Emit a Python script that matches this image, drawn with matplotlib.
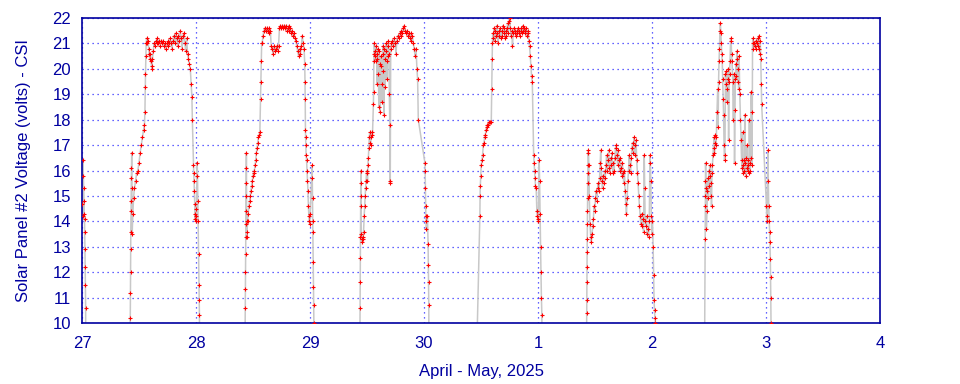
import matplotlib
matplotlib.use('Agg')
import matplotlib.pyplot as plt

# time = days since Apr 27 00:00, volts = panel #2 voltage
# values below 10 are night readings that run off the bottom of the chart
apr26_end = [(0.000, 14.7), (0.005, 14.2), (0.008, 16.4), (0.012, 15.8), (0.015, 15.3), (0.018, 14.8),
             (0.020, 14.3), (0.022, 14.1), (0.024, 13.6), (0.026, 12.9), (0.028, 12.2), (0.030, 11.5),
             (0.032, 10.6), (0.034, 8.0)]

apr27 = [(0.420, 8.0), (0.424, 10.2), (0.425, 11.2), (0.426, 12.0), (0.427, 12.9), (0.428, 13.6), (0.430, 14.4),
         (0.431, 14.8), (0.433, 15.7), (0.434, 16.1), (0.436, 16.7), (0.438, 15.3), (0.440, 13.5), (0.446, 14.3),
         (0.452, 14.9), (0.460, 15.3), (0.470, 15.6), (0.480, 15.9), (0.490, 16.0), (0.500, 16.3), (0.510, 16.7),
         (0.520, 17.0), (0.530, 17.3), (0.540, 17.6), (0.548, 17.8), (0.552, 18.3), (0.555, 19.3), (0.557, 19.8),
         (0.560, 20.5), (0.563, 21.0), (0.567, 21.2), (0.572, 21.0), (0.578, 21.1), (0.585, 20.8), (0.590, 20.6),
         (0.595, 20.4), (0.600, 20.6), (0.605, 20.3), (0.610, 20.1), (0.613, 20.0), (0.618, 20.4), (0.625, 20.7),
         (0.632, 21.0), (0.640, 20.9), (0.648, 21.1), (0.655, 21.0), (0.662, 21.2), (0.670, 21.0), (0.678, 21.1),
         (0.686, 20.9), (0.694, 21.1), (0.702, 21.0), (0.710, 21.1), (0.718, 20.9), (0.726, 21.0), (0.734, 20.8),
         (0.742, 21.0), (0.750, 20.9), (0.758, 21.1), (0.766, 21.0), (0.774, 21.2), (0.782, 21.0), (0.790, 20.8),
         (0.798, 21.1), (0.806, 21.3), (0.814, 21.0), (0.822, 21.4), (0.830, 21.2), (0.838, 20.9), (0.846, 21.3),
         (0.854, 21.1), (0.862, 21.5), (0.870, 21.2), (0.878, 20.8), (0.886, 21.3), (0.894, 21.4), (0.902, 21.0),
         (0.910, 20.7), (0.918, 21.2), (0.926, 20.6), (0.934, 20.4), (0.942, 20.2), (0.950, 20.0), (0.958, 19.4),
         (0.964, 18.9), (0.968, 18.0), (0.978, 16.2), (0.980, 15.9), (0.983, 15.6), (0.986, 15.2), (0.989, 14.7),
         (0.991, 14.3), (0.993, 14.1), (0.996, 14.5), (0.999, 14.0), (1.003, 14.2), (1.010, 16.3), (1.013, 15.8),
         (1.016, 14.8), (1.019, 14.0), (1.022, 12.7), (1.025, 11.5), (1.027, 10.9), (1.030, 10.3), (1.033, 8.0)]

apr28 = [(1.428, 8.0), (1.432, 10.6), (1.433, 11.35), (1.434, 12.0), (1.435, 12.7), (1.436, 13.4), (1.437, 13.9),
         (1.438, 14.4), (1.439, 15.0), (1.440, 15.5), (1.441, 16.1), (1.442, 16.7), (1.444, 14.0), (1.446, 13.4),
         (1.448, 13.6), (1.452, 14.0), (1.458, 14.3), (1.464, 14.6), (1.470, 14.8), (1.476, 15.0), (1.482, 15.2),
         (1.488, 15.4), (1.494, 15.6), (1.500, 15.8), (1.506, 15.9), (1.512, 16.0), (1.518, 16.2), (1.524, 16.4),
         (1.530, 16.7), (1.536, 16.9), (1.542, 17.1), (1.548, 17.3), (1.554, 17.4), (1.560, 17.5), (1.566, 18.8),
         (1.569, 19.5), (1.572, 20.3), (1.576, 21.0), (1.580, 21.0), (1.588, 21.3), (1.596, 21.5), (1.604, 21.6),
         (1.612, 21.5), (1.620, 21.6), (1.628, 21.5), (1.636, 21.4), (1.644, 21.6), (1.652, 21.5), (1.660, 20.9),
         (1.668, 20.8), (1.676, 20.6), (1.684, 20.9), (1.692, 20.7), (1.700, 20.8), (1.708, 20.9), (1.716, 20.7),
         (1.724, 20.9), (1.732, 21.6), (1.740, 21.7), (1.748, 21.6), (1.756, 21.7), (1.764, 21.6), (1.772, 21.7),
         (1.780, 21.6), (1.788, 21.7), (1.796, 21.5), (1.804, 21.6), (1.812, 21.7), (1.820, 21.5), (1.828, 21.6),
         (1.836, 21.4), (1.844, 21.5), (1.852, 21.3), (1.860, 21.4), (1.868, 21.2), (1.876, 21.1), (1.884, 20.9),
         (1.892, 20.7), (1.900, 20.5), (1.908, 20.8), (1.916, 20.6), (1.924, 20.9), (1.932, 21.3), (1.940, 21.0),
         (1.948, 20.8), (1.954, 20.2), (1.956, 19.5), (1.958, 18.8), (1.960, 17.6), (1.962, 17.3), (1.964, 17.0),
         (1.966, 16.6), (1.970, 16.4), (1.974, 16.0), (1.978, 15.6), (1.982, 15.2), (1.986, 14.6), (1.990, 14.2),
         (1.994, 14.0), (1.998, 13.9), (2.002, 14.3), (2.018, 16.2), (2.020, 15.7), (2.022, 14.9), (2.024, 14.0),
         (2.026, 13.6), (2.028, 12.4), (2.030, 11.4), (2.032, 10.7), (2.034, 10.0), (2.036, 8.0)]

apr29 = [(2.436, 8.0), (2.439, 10.6), (2.440, 11.6), (2.441, 12.55), (2.442, 13.4), (2.443, 14.6), (2.444, 15.0),
         (2.445, 15.5), (2.446, 16.0), (2.450, 13.5), (2.454, 13.3), (2.458, 13.2), (2.462, 13.4), (2.466, 13.3),
         (2.470, 13.6), (2.475, 14.2), (2.480, 14.6), (2.484, 15.0), (2.488, 15.3), (2.492, 15.6), (2.496, 15.9),
         (2.500, 16.0), (2.504, 15.6), (2.508, 16.2), (2.512, 16.5), (2.516, 16.9), (2.520, 17.3), (2.524, 17.5),
         (2.528, 17.1), (2.532, 17.0), (2.536, 17.3), (2.540, 17.5), (2.548, 17.4), (2.556, 18.6), (2.558, 19.1),
         (2.560, 20.3), (2.562, 20.6), (2.564, 21.0), (2.568, 20.7), (2.572, 20.5), (2.576, 20.3), (2.580, 20.9),
         (2.584, 20.6), (2.588, 19.4), (2.592, 20.4), (2.596, 20.8), (2.600, 19.8), (2.604, 18.5), (2.608, 20.7),
         (2.612, 20.2), (2.616, 18.3), (2.620, 20.5), (2.624, 20.1), (2.628, 19.4), (2.632, 18.7), (2.636, 20.6),
         (2.640, 20.9), (2.644, 19.9), (2.648, 18.2), (2.652, 20.8), (2.656, 20.4), (2.660, 19.3), (2.664, 20.7),
         (2.668, 21.0), (2.672, 20.3), (2.676, 19.6), (2.680, 20.5), (2.684, 20.9), (2.688, 21.1), (2.692, 20.6),
         (2.696, 19.0), (2.700, 17.8), (2.702, 15.6), (2.704, 15.5), (2.708, 20.8), (2.714, 21.0), (2.722, 21.1),
         (2.730, 20.9), (2.738, 21.2), (2.746, 21.0), (2.754, 20.6), (2.762, 21.1), (2.770, 21.3), (2.778, 21.2),
         (2.786, 21.4), (2.794, 21.3), (2.802, 21.5), (2.810, 21.4), (2.818, 21.6), (2.826, 21.7), (2.834, 21.5),
         (2.842, 21.4), (2.850, 21.5), (2.858, 21.3), (2.866, 21.4), (2.874, 21.2), (2.882, 21.4), (2.890, 21.1),
         (2.898, 21.3), (2.906, 21.0), (2.914, 20.8), (2.922, 20.5), (2.930, 20.8), (2.938, 20.0), (2.944, 19.6),
         (2.950, 18.0), (3.008, 16.3), (3.010, 16.0), (3.012, 15.3), (3.014, 14.6), (3.016, 14.2), (3.018, 14.0),
         (3.020, 13.7), (3.030, 14.2), (3.036, 13.1), (3.038, 12.3), (3.040, 11.6), (3.042, 10.7), (3.044, 8.0)]

apr30 = [(3.458, 8.0), (3.490, 14.2), (3.492, 15.0), (3.494, 15.4), (3.498, 15.8), (3.502, 16.2), (3.508, 16.4),
         (3.514, 16.6), (3.520, 17.0), (3.526, 17.1), (3.532, 17.3), (3.538, 17.4), (3.544, 17.6), (3.550, 17.7),
         (3.556, 17.8), (3.562, 17.8), (3.570, 17.9), (3.580, 17.9), (3.590, 17.9), (3.594, 19.2), (3.597, 20.4),
         (3.600, 21.0), (3.603, 21.4), (3.608, 21.2), (3.614, 21.6), (3.620, 21.1), (3.626, 21.5), (3.632, 21.3),
         (3.638, 21.7), (3.644, 21.4), (3.650, 21.0), (3.656, 21.5), (3.662, 21.3), (3.668, 21.6), (3.674, 21.2),
         (3.680, 21.5), (3.686, 21.3), (3.692, 21.7), (3.698, 21.4), (3.704, 21.6), (3.710, 21.2), (3.716, 21.5),
         (3.722, 21.3), (3.728, 21.6), (3.734, 21.8), (3.740, 21.4), (3.746, 21.9), (3.752, 22.0), (3.758, 21.6),
         (3.764, 21.3), (3.770, 21.5), (3.776, 20.9), (3.782, 21.4), (3.788, 21.6), (3.794, 21.4), (3.800, 21.5),
         (3.806, 21.3), (3.812, 21.5), (3.818, 21.4), (3.824, 21.6), (3.830, 21.4), (3.836, 21.5), (3.842, 21.3),
         (3.848, 21.5), (3.854, 21.6), (3.860, 21.4), (3.866, 21.7), (3.872, 21.5), (3.878, 21.6), (3.884, 21.4),
         (3.890, 21.5), (3.896, 21.6), (3.902, 21.3), (3.908, 21.5), (3.914, 21.4), (3.920, 21.1), (3.926, 20.9),
         (3.932, 20.5), (3.938, 20.1), (3.944, 19.7), (3.950, 19.5), (3.962, 16.6), (3.966, 16.3), (3.970, 16.0),
         (3.974, 15.7), (3.978, 15.4), (3.984, 15.3), (3.990, 14.4), (3.994, 14.2), (3.998, 14.1), (4.002, 14.0),
         (4.010, 16.4), (4.014, 15.6), (4.018, 14.3), (4.022, 13.0), (4.026, 12.0), (4.030, 11.0), (4.034, 10.3),
         (4.036, 8.0)]

may1 = [(4.424, 8.0), (4.427, 10.4), (4.428, 10.9), (4.429, 11.6), (4.430, 12.2), (4.431, 12.8), (4.432, 13.3),
        (4.433, 13.9), (4.434, 14.4), (4.435, 14.9), (4.436, 15.5), (4.437, 15.9), (4.438, 16.2), (4.440, 16.7),
        (4.442, 16.8), (4.446, 16.2), (4.450, 15.0), (4.456, 13.9), (4.462, 13.4), (4.468, 13.2), (4.474, 13.5),
        (4.480, 13.8), (4.486, 14.1), (4.492, 14.6), (4.498, 14.4), (4.504, 14.9), (4.510, 15.2), (4.516, 14.8),
        (4.522, 15.3), (4.528, 15.5), (4.534, 15.2), (4.540, 15.7), (4.546, 16.3), (4.550, 16.8), (4.554, 16.1),
        (4.560, 15.6), (4.566, 15.3), (4.572, 15.8), (4.578, 15.5), (4.584, 16.0), (4.590, 15.7), (4.596, 16.2),
        (4.602, 16.6), (4.608, 16.0), (4.614, 16.4), (4.620, 16.8), (4.626, 16.1), (4.632, 15.9), (4.638, 16.5),
        (4.644, 16.2), (4.650, 16.7), (4.656, 15.9), (4.662, 16.3), (4.668, 16.0), (4.674, 16.5), (4.680, 16.9),
        (4.686, 17.0), (4.692, 16.6), (4.698, 16.2), (4.704, 16.8), (4.710, 16.4), (4.716, 16.0), (4.722, 16.5),
        (4.728, 16.1), (4.734, 15.8), (4.740, 16.3), (4.746, 15.9), (4.752, 15.5), (4.758, 16.0), (4.764, 15.2),
        (4.770, 14.7), (4.776, 14.3), (4.782, 14.9), (4.788, 15.6), (4.794, 16.0), (4.800, 16.6), (4.806, 16.2),
        (4.812, 15.9), (4.818, 16.5), (4.824, 16.9), (4.830, 17.1), (4.836, 16.7), (4.842, 17.3), (4.848, 17.0),
        (4.854, 16.6), (4.860, 17.2), (4.866, 16.4), (4.872, 15.9), (4.878, 15.5), (4.884, 15.0), (4.890, 14.6),
        (4.896, 14.2), (4.902, 13.9), (4.908, 14.3), (4.914, 13.8), (4.920, 14.1), (4.926, 13.6), (4.932, 16.6),
        (4.936, 15.3), (4.940, 14.0), (4.946, 13.8), (4.952, 14.2), (4.958, 13.5), (4.964, 13.7), (4.970, 13.4),
        (4.976, 14.0), (4.982, 16.6), (4.986, 16.3), (4.990, 15.6), (4.994, 14.2), (4.998, 13.5), (5.004, 14.0),
        (5.010, 13.0), (5.014, 11.9), (5.018, 10.9), (5.022, 10.5), (5.026, 10.2), (5.030, 10.0), (5.034, 8.0)]

may2 = [(5.460, 8.0), (5.466, 13.3), (5.467, 14.6), (5.468, 15.0), (5.469, 15.6), (5.470, 16.3), (5.474, 15.3),
        (5.478, 13.7), (5.482, 14.4), (5.486, 15.2), (5.490, 15.7), (5.494, 14.9), (5.498, 16.0), (5.502, 15.4),
        (5.506, 16.2), (5.510, 15.8), (5.514, 15.0), (5.518, 15.5), (5.522, 14.6), (5.526, 15.9), (5.530, 16.2),
        (5.536, 16.6), (5.540, 16.9), (5.544, 17.3), (5.548, 16.7), (5.552, 17.1), (5.556, 17.4), (5.560, 17.0),
        (5.564, 17.3), (5.570, 18.3), (5.576, 19.2), (5.580, 17.7), (5.584, 19.5), (5.588, 20.3), (5.592, 20.8),
        (5.596, 21.5), (5.600, 21.8), (5.604, 21.4), (5.608, 21.0), (5.612, 20.6), (5.616, 20.3), (5.620, 19.6),
        (5.624, 18.8), (5.628, 18.2), (5.632, 17.0), (5.636, 16.4), (5.640, 16.6), (5.644, 19.8), (5.648, 19.4),
        (5.652, 19.9), (5.656, 19.2), (5.660, 18.7), (5.664, 19.6), (5.668, 20.0), (5.672, 17.2), (5.676, 19.5),
        (5.680, 19.8), (5.684, 20.3), (5.690, 21.2), (5.694, 21.1), (5.698, 20.6), (5.702, 20.3), (5.708, 19.5),
        (5.714, 18.0), (5.720, 19.8), (5.724, 16.3), (5.728, 18.4), (5.732, 19.6), (5.736, 20.2), (5.740, 19.7),
        (5.744, 20.7), (5.748, 20.4), (5.752, 19.5), (5.756, 20.0), (5.760, 19.2), (5.764, 20.5), (5.770, 19.0),
        (5.776, 18.0), (5.780, 17.2), (5.786, 16.4), (5.790, 16.1), (5.794, 17.5), (5.798, 16.2), (5.802, 15.9),
        (5.806, 16.4), (5.810, 16.0), (5.814, 18.2), (5.818, 16.3), (5.822, 15.8), (5.826, 16.5), (5.830, 16.1),
        (5.834, 17.0), (5.838, 16.2), (5.842, 16.0), (5.846, 16.4), (5.850, 15.9), (5.854, 18.0), (5.858, 16.3),
        (5.862, 16.0), (5.866, 16.5), (5.870, 19.1), (5.874, 18.3), (5.878, 16.2), (5.882, 21.0), (5.886, 21.2),
        (5.890, 20.8), (5.896, 21.0), (5.902, 20.9), (5.908, 21.1), (5.914, 20.8), (5.920, 21.0), (5.926, 21.2),
        (5.932, 20.9), (5.938, 21.3), (5.942, 20.8), (5.946, 20.6), (5.950, 21.1), (5.954, 20.4), (5.958, 19.4),
        (5.962, 18.6), (6.004, 14.6), (6.006, 14.2), (6.010, 14.0), (6.016, 16.8), (6.020, 15.6), (6.024, 14.6),
        (6.028, 14.0), (6.032, 13.6), (6.034, 13.2), (6.038, 12.5), (6.040, 11.8), (6.042, 11.0), (6.044, 10.0),
        (6.046, 8.0)]

day_ticks = [0, 1, 2, 3, 4, 5, 6, 7]
day_labels = ['27', '28', '29', '30', '1', '2', '3', '4']
volt_ticks = list(range(10, 23))

navy = '#0000a0'
plt.rcParams['font.family'] = ['Liberation Sans', 'DejaVu Sans']

fig = plt.figure(figsize=(9.6, 3.84), dpi=100)
ax = fig.add_axes([82 / 960, 61 / 384, 798 / 960, 305 / 384])

readings = apr26_end + apr27 + apr28 + apr29 + apr30 + may1 + may2
t = [p[0] for p in readings]
v = [p[1] for p in readings]

ax.plot(t, v, '-', color='#c8c8c8', lw=1.1, zorder=2)
ax.plot(t, v, '+', color='#ff0000', ms=3.5, mew=0.8, zorder=3)

ax.set_xlim(0, 7)
ax.set_ylim(10, 22)
ax.set_xticks(day_ticks)
ax.set_xticklabels(day_labels)
ax.set_yticks(volt_ticks)
ax.grid(True, color='#3030ff', linestyle=(0, (1, 3)), lw=0.9)
ax.set_axisbelow(True)
for s in ax.spines.values():
    s.set_color(navy)
    s.set_linewidth(1.2)
ax.tick_params(length=0, labelsize=12, labelcolor=navy)
ax.tick_params(axis='x', pad=9)
ax.tick_params(axis='y', pad=8)
ax.set_xlabel('April - May, 2025', color=navy, fontsize=12, labelpad=10)
ax.set_ylabel('Solar Panel #2 Voltage (volts) - CSI', color=navy, fontsize=12, labelpad=15)

fig.savefig('out.png', dpi=100)
